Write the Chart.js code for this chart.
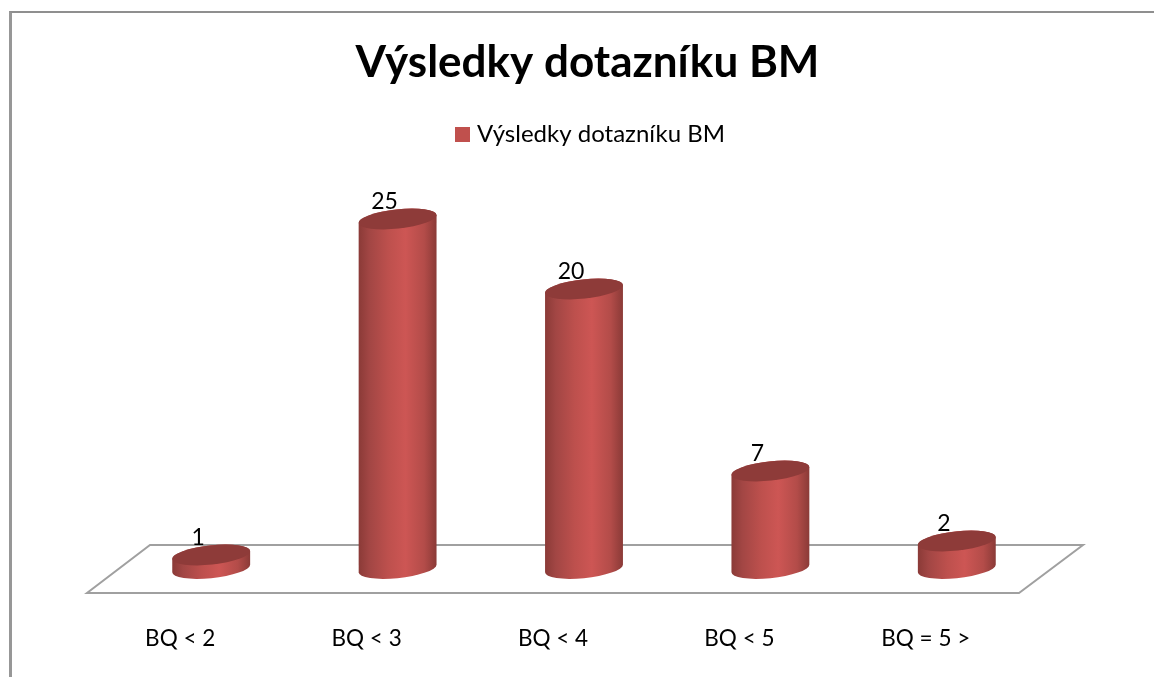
<!DOCTYPE html>
<html><head><meta charset="utf-8">
<style>
html,body{margin:0;padding:0;background:#fff;overflow:hidden}
#wrap{position:relative;width:1154px;height:677px}
#frame{position:absolute;left:9px;top:11px;right:0;bottom:0;border-top:2px solid #8f8f8f;border-left:3px solid #979797;pointer-events:none}
canvas{position:absolute;left:0;top:0}
</style>
<script src="https://cdn.jsdelivr.net/npm/chart.js@4"></script>
</head><body>
<div id="wrap"><canvas id="c" width="1154" height="677"></canvas><div id="frame"></div></div>
<script>
const chartTitle = "Výsledky dotazníku BM";
const categories = ["BQ < 2","BQ < 3","BQ < 4","BQ < 5","BQ = 5 >"];
const values = [1,25,20,7,2];
const FONT = "Lato, Carlito, sans-serif";
const SERIES_COLOR = "#C0504D";

// legend swatch: 15px square sitting at the right of a 25px image
const swatch = document.createElement("canvas");
swatch.width = 25; swatch.height = 15;
const sctx = swatch.getContext("2d");
sctx.fillStyle = SERIES_COLOR; sctx.fillRect(10,0,15,15);

const cylinders = {
  id:"cylinders",
  beforeDatasetDraw(chart,args){
    const ctx=chart.ctx, {x:xs,y:ys}=chart.scales;
    const base=ys.getPixelForValue(0), l=xs.left, r=xs.right;
    ctx.save();
    ctx.strokeStyle="#a0a0a0";ctx.lineWidth=2;ctx.lineJoin="miter";
    ctx.beginPath();
    ctx.moveTo(l+32,base-24);ctx.lineTo(r+33,base-24);ctx.lineTo(r-31,base+24);ctx.lineTo(l-31,base+24);ctx.closePath();
    ctx.stroke();
    const th=-6*Math.PI/180;
    args.meta.data.forEach(el=>{
      const a=el.width/2, b=9.6, cx=el.x, yT=el.y, yB=el.base-0.5;
      const t0=Math.atan(-(b/a)*Math.tan(th));
      const g=ctx.createLinearGradient(cx-a,0,cx+a,0);
      g.addColorStop(0,"#8a3a37");g.addColorStop(0.14,"#a24644");g.addColorStop(0.38,"#bd504d");
      g.addColorStop(0.6,"#cd5654");g.addColorStop(0.84,"#b34c49");g.addColorStop(1,"#8a3a37");
      ctx.beginPath();
      ctx.ellipse(cx,yB,a,b,th,t0,t0+Math.PI,false);
      ctx.ellipse(cx,yT,a,b,th,t0+Math.PI,t0+2*Math.PI,false);
      ctx.closePath();
      ctx.fillStyle=g;ctx.fill();
      ctx.beginPath();
      ctx.ellipse(cx,yT,a,b,th,0,2*Math.PI);
      ctx.fillStyle="#8e3b39";ctx.fill();
    });
    ctx.restore();
    return false;
  },
  afterDatasetsDraw(chart){
    const ctx=chart.ctx, meta=chart.getDatasetMeta(0);
    ctx.save();
    ctx.font="23px "+FONT;ctx.fillStyle="#000";ctx.textAlign="center";ctx.textBaseline="middle";
    meta.data.forEach((el,i)=>ctx.fillText(String(values[i]),el.x-13,el.y-17));
    ctx.restore();
  }
};

new Chart(document.getElementById("c"),{
  type:"bar",
  data:{labels:categories,datasets:[{label:chartTitle,data:values,backgroundColor:SERIES_COLOR,categoryPercentage:1,barPercentage:0.42}]},
  plugins:[cylinders],
  options:{
    responsive:false,animation:false,
    layout:{padding:{left:21,right:0,top:0,bottom:0}},
    plugins:{
      title:{display:true,text:chartTitle,color:"#000",font:{family:FONT,size:44,weight:"bold",lineHeight:1},padding:{top:41,bottom:34}},
      legend:{display:true,position:"top",labels:{color:"#000",font:{family:FONT,size:24},boxWidth:15,boxHeight:15,padding:3,usePointStyle:true,pointStyle:swatch}},
      tooltip:{enabled:false}
    },
    scales:{
      x:{grid:{display:false},border:{display:false},ticks:{color:"#000",font:{family:FONT,size:22.5},padding:48,maxRotation:0,labelOffset:-31},afterFit(s){s.height=108}},
      y:{min:0,max:29.5,grid:{display:false},border:{display:false},ticks:{display:false},afterFit(s){s.width=97}},
      y2:{position:"right",min:0,max:29.5,grid:{display:false},border:{display:false},ticks:{display:false},afterFit(s){s.width=104}}
    }
  }
});
</script>
</body></html>
